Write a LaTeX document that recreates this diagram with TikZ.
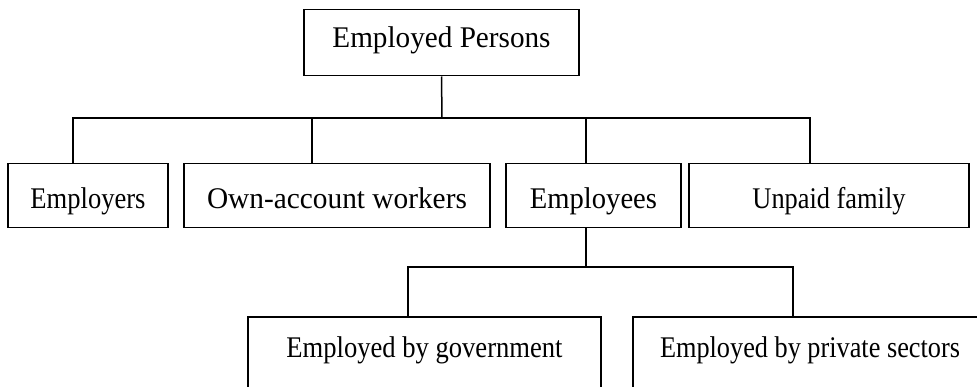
\documentclass[tikz,border=0pt]{standalone}
\usepackage{fontspec}
\setmainfont{Liberation Serif}
\tikzset{
  box/.style={draw, line width=1.5pt, rectangle, inner sep=0pt, anchor=north, font=\fontsize{30pt}{30pt}\selectfont},
  toprow/.style={box, text height=38pt, text depth=28pt},
  midrow/.style={box, text height=45pt, text depth=19pt},
  lowrow/.style={box, text height=41pt, text depth=60pt},
  link/.style={line width=1.5pt},
}
\newcommand{\sx}[2]{\scalebox{#1}[1]{#2}}
\begin{document}
\begin{tikzpicture}[x=1pt,y=-1pt]
\useasboundingbox (0,0) rectangle (977,387);
\clip (0,0) rectangle (977,387);
% top
\node[toprow, minimum width=275pt] (top) at (441.5,9) {\sx{0.973}{Employed Persons}};
% row 2
\node[midrow, minimum width=160pt] (emp) at (88,163) {\sx{0.885}{Employers}};
\node[midrow, minimum width=306pt] (own) at (337,163) {\sx{0.978}{Own-account workers}};
\node[midrow, minimum width=175pt] (emps) at (593.5,163) {\sx{0.953}{Employees}};
\node[midrow, minimum width=280pt] (unp) at (829,163) {\sx{0.879}{Unpaid family}};
% row 3 (cut at bottom)
\node[lowrow, minimum width=353pt] (gov) at (424.5,316) {\sx{0.886}{Employed by government}};
\node[lowrow, minimum width=354pt] (priv) at (810,316) {\sx{0.876}{Employed by private sectors}};
% connectors level 1
\coordinate (b1) at (442,118);
\draw[link] (top.south) -- (b1);
\draw[link] ([xshift=-15pt]emp.north) |- ([xshift=-19pt]unp.north |- b1) -- ([xshift=-19pt]unp.north);
\draw[link] ([xshift=-25pt]own.north) -- ([xshift=-25pt]own.north |- b1);
\draw[link] ([xshift=-7.5pt]emps.north) -- ([xshift=-7.5pt]emps.north |- b1);
% connectors level 2
\coordinate (b2) at (586,267);
\draw[link] ([xshift=-7.5pt]emps.south) -- (b2);
\draw[link] ([xshift=-16.5pt]gov.north) |- ([xshift=-17pt]priv.north |- b2) -- ([xshift=-17pt]priv.north);
\end{tikzpicture}
\end{document}
